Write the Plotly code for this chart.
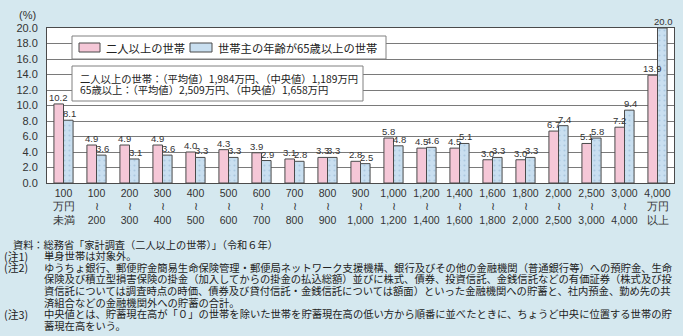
import plotly.graph_objects as go

categories = ["100<br>万円<br>未満", "100<br>≀<br>200", "200<br>≀<br>300", "300<br>≀<br>400",
              "400<br>≀<br>500", "500<br>≀<br>600", "600<br>≀<br>700", "700<br>≀<br>800",
              "800<br>≀<br>900", "900<br>≀<br>1,000", "1,000<br>≀<br>1,200", "1,200<br>≀<br>1,400",
              "1,400<br>≀<br>1,600", "1,600<br>≀<br>1,800", "1,800<br>≀<br>2,000", "2,000<br>≀<br>2,500",
              "2,500<br>≀<br>3,000", "3,000<br>≀<br>4,000", "4,000<br>万円<br>以上"]
two_plus = [10.2, 4.9, 4.9, 4.9, 4.0, 4.3, 3.9, 3.1, 3.3, 2.8, 5.8, 4.5, 4.5, 3.0, 3.0, 6.7, 5.1, 7.2, 13.9]
elderly = [8.1, 3.6, 3.1, 3.6, 3.3, 3.3, 2.9, 2.8, 3.3, 2.5, 4.8, 4.6, 5.1, 3.3, 3.3, 7.4, 5.8, 9.4, 20.0]
series_names = ["二人以上の世帯", "世帯主の年齢が65歳以上の世帯"]
info_lines = ["二人以上の世帯：（平均値）1,984万円、（中央値）1,189万円",
              "65歳以上：（平均値）2,509万円、（中央値）1,658万円"]
source = "資料：総務省「家計調査（二人以上の世帯）」（令和６年）"
notes = [
    ("(注1)", "単身世帯は対象外。"),
    ("(注2)", "ゆうちょ銀行、郵便貯金簡易生命保険管理・郵便局ネットワーク支援機構、銀行及びその他の金融機関（普通銀行等）への預貯金、生命"),
    ("", "保険及び積立型損害保険の掛金（加入してからの掛金の払込総額）並びに株式、債券、投資信託、金銭信託などの有価証券（株式及び投"),
    ("", "資信託については調査時点の時価、債券及び貸付信託・金銭信託については額面）といった金融機関への貯蓄と、社内預金、勤め先の共"),
    ("", "済組合などの金融機関外への貯蓄の合計。"),
    ("(注3)", "中央値とは、貯蓄現在高が「０」の世帯を除いた世帯を貯蓄現在高の低い方から順番に並べたときに、ちょうど中央に位置する世帯の貯"),
    ("", "蓄現在高をいう。"),
]

W, H = 683, 336
L, R, T, B = 47, 9, 28, 153
PW, PH = W - L - R, H - T - B
def fx(p): return (p - L) / PW
def fy(p): return (H - B - p) / PH

BG = "#d5e8ef"
PINK = "#f5c7d7"
BLUE = "#c9dff0"
EDGE = "#4a4a4a"
TXT = "#333333"
JP = "Noto Sans CJK JP"
SANS = "Liberation Sans, Arial, sans-serif"

fig = go.Figure()
fig.add_trace(go.Bar(
    x=categories, y=two_plus, name=series_names[0],
    marker=dict(color=PINK, line=dict(color=EDGE, width=1)),
))
fig.add_trace(go.Bar(
    x=categories, y=elderly, name=series_names[1],
    marker=dict(color=BLUE, line=dict(color=EDGE, width=1),
                pattern=dict(shape=".", fgcolor="#8fb3d1", bgcolor=BLUE, size=5, solidity=0.15)),
))

shapes = [
    dict(type="rect", xref="paper", yref="paper", x0=fx(72), x1=fx(386), y0=fy(59), y1=fy(36),
         fillcolor="white", line=dict(color="#808080", width=1), layer="above"),
    dict(type="rect", xref="paper", yref="paper", x0=fx(79), x1=fx(100), y0=fy(52), y1=fy(43),
         fillcolor=PINK, line=dict(color=EDGE, width=1), layer="above"),
    dict(type="rect", xref="paper", yref="paper", x0=fx(190), x1=fx(212), y0=fy(52), y1=fy(43),
         fillcolor=BLUE, line=dict(color=EDGE, width=1), layer="above"),
    dict(type="rect", xref="paper", yref="paper", x0=fx(72), x1=fx(363), y0=fy(101), y1=fy(66),
         fillcolor="white", line=dict(color="#808080", width=1), layer="above"),
]

ann = []
for c, v in zip(categories, two_plus):
    ann.append(dict(text=f"{v:.1f}", x=c, y=v, xref="x", yref="y", xshift=-5, yshift=0,
                    xanchor="center", yanchor="bottom", showarrow=False, borderpad=0,
                    font=dict(family=SANS, size=9.5, color=TXT)))
for c, v in zip(categories, elderly):
    ann.append(dict(text=f"{v:.1f}", x=c, y=v, xref="x", yref="y", xshift=6, yshift=0,
                    xanchor="center", yanchor="bottom", showarrow=False, borderpad=0,
                    font=dict(family=SANS, size=9.5, color=TXT)))

for txt, px in ((series_names[0], 104), (series_names[1], 216)):
    ann.append(dict(text=txt, x=fx(px), y=fy(47.5), xref="paper", yref="paper", xanchor="left",
                    yanchor="middle", align="left", showarrow=False,
                    font=dict(family=JP, size=11.3, color="#222")))
for i, line in enumerate(info_lines):
    ann.append(dict(text=line, x=fx(78), y=fy(78 + 11.5 * i), xref="paper", yref="paper",
                    xanchor="left", yanchor="middle", align="left", showarrow=False,
                    font=dict(family=JP, size=10.3, color="#222")))
ann.append(dict(text="(%)", x=fx(17), y=fy(15), xref="paper", yref="paper", xanchor="left",
                yanchor="middle", showarrow=False, font=dict(family=SANS, size=11, color=TXT)))

NOTE_FONT = dict(family=JP, size=10.3, color="#222")
ann.append(dict(text=source, x=fx(12), y=fy(244), xref="paper", yref="paper",
                xanchor="left", yanchor="middle", align="left", showarrow=False, borderpad=0,
                font=dict(family=JP, size=10.2, color="#222")))
for i, (lab, body) in enumerate(notes):
    yy = fy(255.6 + 11.6 * i)
    if lab:
        ann.append(dict(text=lab, x=fx(3), y=yy, xref="paper", yref="paper", xanchor="left",
                        yanchor="middle", align="left", showarrow=False, borderpad=0,
                        font=dict(family=JP, size=10.8, color="#222")))
    ann.append(dict(text=body, x=fx(43), y=yy, xref="paper", yref="paper", xanchor="left",
                    yanchor="middle", align="left", showarrow=False, borderpad=0, font=NOTE_FONT))

fig.update_layout(
    width=W, height=H, autosize=False,
    margin=dict(l=L, r=R, t=T, b=B, pad=0),
    paper_bgcolor=BG, plot_bgcolor="white",
    barmode="group", bargap=0.42, bargroupgap=0,
    showlegend=False,
    shapes=shapes, annotations=ann,
    xaxis=dict(type="category", showgrid=False, showline=True, linecolor=EDGE, linewidth=1,
               mirror=True, ticks="", tickangle=0,
               tickfont=dict(family=SANS, size=10.5, color=TXT)),
    yaxis=dict(range=[0, 20], dtick=2, tickformat=".1f", showgrid=True, gridcolor="#7a7a7a",
               gridwidth=1, showline=True, linecolor=EDGE, linewidth=1, mirror=True, ticks="",
               ticklabelstandoff=6, zeroline=False,
               tickfont=dict(family=SANS, size=11, color=TXT)),
)

fig.write_html("out.html")
